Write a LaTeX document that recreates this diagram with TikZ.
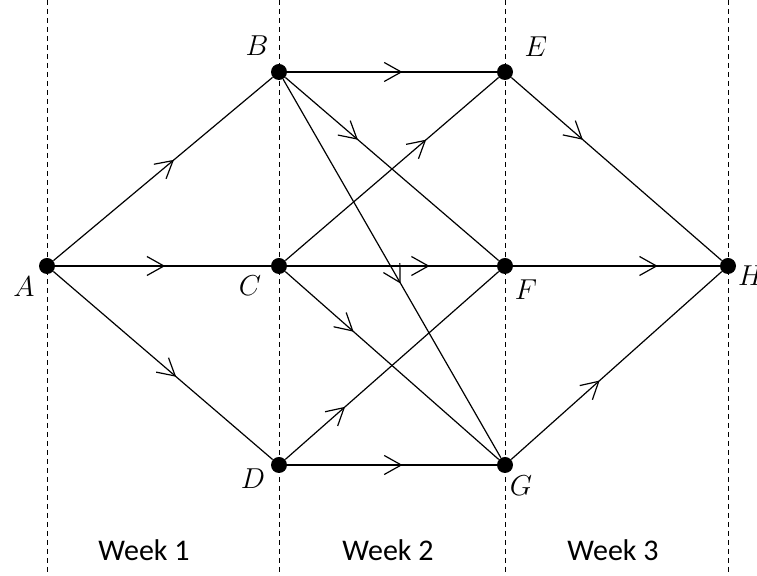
\documentclass[tikz,border=0pt]{standalone}
\usepackage{fontspec}
\setsansfont{Carlito}
\usetikzlibrary{arrows.meta,decorations.markings}
\tikzset{
  vertex/.style = {circle, fill=black, draw=none, inner sep=0pt,
    minimum size=8pt},% sommet
  vlabel/.style = {inner sep=0pt, font=\fontsize{14.5}{16}\selectfont},% nom du sommet
  wlabel/.style = {inner sep=0pt, font=\fontsize{15}{18}\selectfont\sffamily},% semaine
  guide/.style = {line width=0.5pt, dash pattern=on 2.5pt off 2pt},
  midarrow/.style = {line width=0.6pt, decoration={markings,
    mark=at position #1 with {\arrow{Straight Barb[length=8.5pt,width=9.5pt]}}},
    postaction={decorate}},
}
\begin{document}
\begin{tikzpicture}[x=0.5pt,y=-0.5pt]
  \useasboundingbox (0,0) rectangle (757,576);

  % semaines
  \foreach \x in {47,279,505,728}
    \draw[guide] (\x,0) -- (\x,576);
  \node[wlabel] (w1) at (144,550) {Week 1};
  \node[wlabel] (w2) at (388,550) {Week 2};
  \node[wlabel] (w3) at (613,550) {Week 3};

  \node[vertex] (a) at (47,266) {};
  \node[vertex] (b) at (279,72) {};
  \node[vertex] (c) at (279,266) {};
  \node[vertex] (d) at (279,465) {};
  \node[vertex] (e) at (505,72) {};
  \node[vertex] (f) at (505,266) {};
  \node[vertex] (g) at (505,465) {};
  \node[vertex] (h) at (728,266) {};

  \node[vlabel] (la) at (24,287) {$A$};
  \node[vlabel] (lb) at (257,46) {$B$};
  \node[vlabel] (lc) at (250,286) {$C$};
  \node[vlabel] (ld) at (253,479) {$D$};
  \node[vlabel] (le) at (536,47) {$E$};
  \node[vlabel] (lf) at (526,290) {$F$};
  \node[vlabel] (lg) at (521,486) {$G$};
  \node[vlabel] (lh) at (751,276) {$H$};

  % semaine 1
  \draw[midarrow=0.55] (a) -- (b);
  \draw[midarrow=0.51] (a) -- (c);
  \draw[midarrow=0.56] (a) -- (d);
  % semaine 2
  \draw[midarrow=0.55] (b) -- (e);
  \draw[midarrow=0.34] (b) -- (f);
  \draw[midarrow=0.54] (b) -- (g);
  \draw[midarrow=0.66] (c) -- (e);
  \draw[midarrow=0.68] (c) -- (f);
  \draw[midarrow=0.32] (c) -- (g);
  \draw[midarrow=0.28] (d) -- (f);
  \draw[midarrow=0.55] (d) -- (g);
  % semaine 3
  \draw[midarrow=0.34] (e) -- (h);
  \draw[midarrow=0.70] (f) -- (h);
  \draw[midarrow=0.42] (g) -- (h);
\end{tikzpicture}
\end{document}
